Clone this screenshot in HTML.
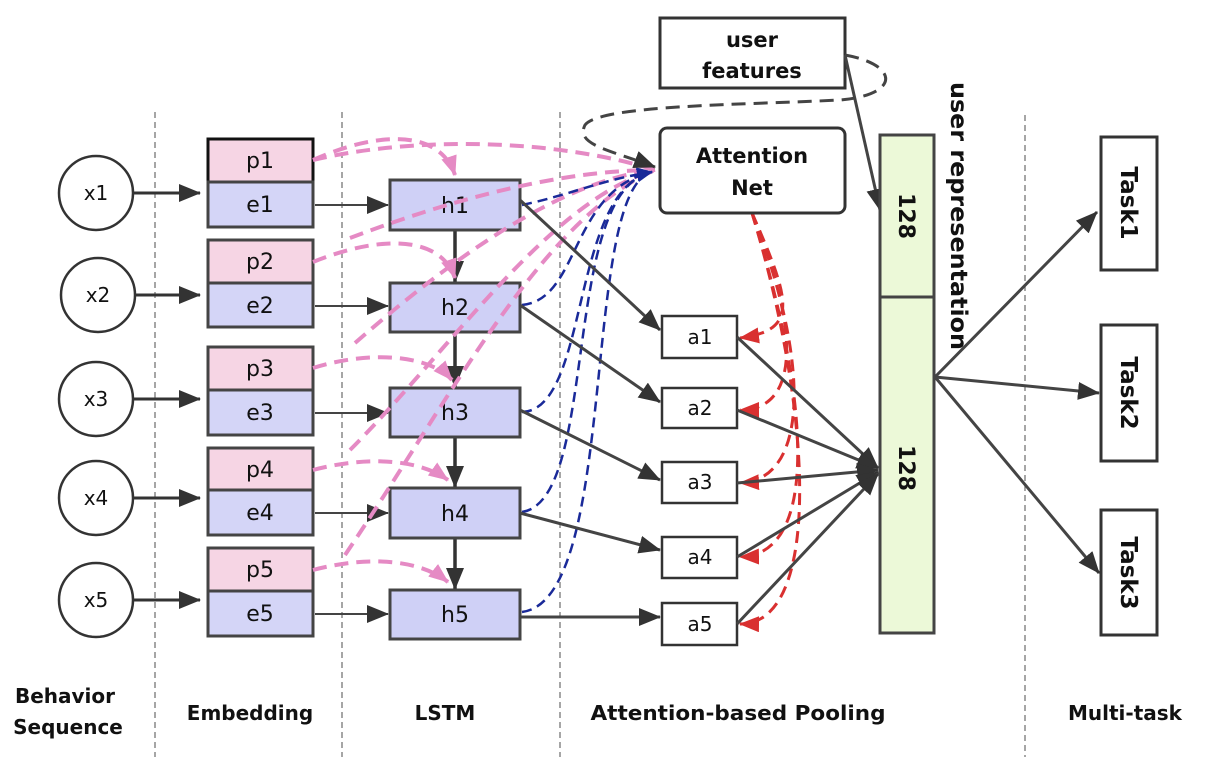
<!DOCTYPE html>
<html><head><meta charset="utf-8"><style>
html,body{margin:0;padding:0;background:#fff;}
svg{display:block;}
text{font-family:"DejaVu Sans","Liberation Sans",sans-serif;fill:#111;}
</style></head><body>
<svg width="1227" height="757" viewBox="0 0 1227 757" xmlns="http://www.w3.org/2000/svg">
<defs>
<marker id="abL" markerWidth="22" markerHeight="18" refX="21" refY="9" orient="auto" markerUnits="userSpaceOnUse"><path d="M0,0 L22,9 L0,18 z" fill="#333"/></marker>
<marker id="ap" markerWidth="20" markerHeight="16" refX="19" refY="8" orient="auto" markerUnits="userSpaceOnUse"><path d="M0,0 L20,8 L0,16 z" fill="#e58ac4"/></marker>
<marker id="ar" markerWidth="20" markerHeight="16" refX="19" refY="8" orient="auto" markerUnits="userSpaceOnUse"><path d="M0,0 L20,8 L0,16 z" fill="#d93030"/></marker>
<marker id="an" markerWidth="16" markerHeight="14" refX="15" refY="7" orient="auto" markerUnits="userSpaceOnUse"><path d="M0,0 L16,7 L0,14 z" fill="#1a2a99"/></marker>
</defs>
<g stroke="#777" stroke-width="1.3" stroke-dasharray="6,4">
<line x1="155" y1="112" x2="155" y2="757"/><line x1="342" y1="112" x2="342" y2="757"/>
<line x1="560" y1="112" x2="560" y2="757"/><line x1="1025" y1="115" x2="1025" y2="757"/>
</g>
<g stroke="#333" stroke-width="2.5" fill="#fff">
<circle cx="96" cy="193" r="37"/><circle cx="98" cy="295" r="37"/><circle cx="96" cy="399" r="37"/><circle cx="96" cy="498" r="37"/><circle cx="96" cy="600" r="37"/>
</g>
<g font-size="20" text-anchor="middle">
<text x="96" y="200">x1</text><text x="98" y="302">x2</text><text x="96" y="406">x3</text><text x="96" y="505">x4</text><text x="96" y="607">x5</text>
</g>
<g stroke="#333" stroke-width="3" marker-end="url(#abL)">
<line x1="133" y1="193" x2="200" y2="193"/><line x1="135" y1="295" x2="200" y2="295"/><line x1="133" y1="399" x2="200" y2="399"/><line x1="133" y1="498" x2="200" y2="498"/><line x1="133" y1="600" x2="200" y2="600"/>
</g>
<g stroke="#444" stroke-width="3">
<rect x="208" y="139" width="105" height="43" fill="#f6d5e4" stroke="#111"/><rect x="208" y="182" width="105" height="45" fill="#d4d5f7"/>
<rect x="208" y="240" width="105" height="43" fill="#f6d5e4"/><rect x="208" y="283" width="105" height="44" fill="#d4d5f7"/>
<rect x="208" y="347" width="105" height="43" fill="#f6d5e4"/><rect x="208" y="390" width="105" height="45" fill="#d4d5f7"/>
<rect x="208" y="448" width="105" height="42" fill="#f6d5e4"/><rect x="208" y="490" width="105" height="45" fill="#d4d5f7"/>
<rect x="208" y="548" width="105" height="43" fill="#f6d5e4"/><rect x="208" y="591" width="105" height="45" fill="#d4d5f7"/>
</g>
<g font-size="22" text-anchor="middle">
<text x="260" y="168">p1</text><text x="260" y="212">e1</text>
<text x="260" y="269">p2</text><text x="260" y="313">e2</text>
<text x="260" y="376">p3</text><text x="260" y="420">e3</text>
<text x="260" y="477">p4</text><text x="260" y="520">e4</text>
<text x="260" y="577">p5</text><text x="260" y="621">e5</text>
</g>
<g stroke="#444" stroke-width="2" marker-end="url(#abL)">
<line x1="315" y1="205" x2="388" y2="205"/><line x1="315" y1="306" x2="388" y2="306"/><line x1="315" y1="413" x2="388" y2="413"/><line x1="315" y1="513" x2="388" y2="513"/><line x1="315" y1="614" x2="388" y2="614"/>
</g>
<g stroke="#333" stroke-width="3.5" marker-end="url(#abL)">
<line x1="455" y1="231" x2="455" y2="282"/><line x1="455" y1="333" x2="455" y2="387"/><line x1="455" y1="438" x2="455" y2="487"/><line x1="455" y1="539" x2="455" y2="589"/>
</g>
<g stroke="#444" stroke-width="3" fill="#cfd0f6">
<rect x="390" y="180" width="130" height="50"/><rect x="390" y="283" width="130" height="49"/><rect x="390" y="388" width="130" height="49"/><rect x="390" y="488" width="130" height="50"/><rect x="390" y="590" width="130" height="49"/>
</g>
<g font-size="22" text-anchor="middle">
<text x="455" y="213">h1</text><text x="455" y="315">h2</text><text x="455" y="420">h3</text><text x="455" y="521">h4</text><text x="455" y="622">h5</text>
</g>
<g stroke="#e58ac4" stroke-width="4" fill="none" stroke-dasharray="14,8">
<path d="M313,160 C380,130 440,130 455,175" marker-end="url(#ap)"/>
<path d="M313,262 C380,235 440,235 455,278" marker-end="url(#ap)"/>
<path d="M313,368 C370,350 430,355 452,380" marker-end="url(#ap)"/>
<path d="M313,470 C370,455 420,460 448,480" marker-end="url(#ap)"/>
<path d="M313,570 C370,555 420,560 448,582" marker-end="url(#ap)"/>
<path d="M313,160 C420,135 560,140 655,170"/>
<path d="M350,238 C450,200 560,170 655,170"/>
<path d="M355,343 C450,260 560,180 655,170"/>
<path d="M350,450 C450,350 550,200 655,170"/>
<path d="M345,555 C450,400 540,220 655,170"/>
</g>
<g stroke="#1a2a99" stroke-width="2.5" fill="none" stroke-dasharray="10,6">
<path d="M522,205 C570,195 600,180 652,172" marker-end="url(#an)"/>
<path d="M522,305 C580,300 570,190 652,172" marker-end="url(#an)"/>
<path d="M522,412 C590,410 570,190 652,172"/>
<path d="M522,512 C600,500 560,190 652,172"/>
<path d="M522,612 C620,600 580,190 652,172"/>
</g>
<g stroke="#444" stroke-width="3" marker-end="url(#abL)">
<line x1="520" y1="200" x2="660" y2="330"/><line x1="520" y1="305" x2="660" y2="402"/><line x1="520" y1="410" x2="660" y2="480"/><line x1="520" y1="513" x2="660" y2="550"/><line x1="520" y1="617" x2="660" y2="617"/>
</g>
<g stroke="#333" stroke-width="2.5" fill="#fff">
<rect x="662" y="316" width="75" height="42"/><rect x="662" y="388" width="75" height="40"/><rect x="662" y="462" width="75" height="41"/><rect x="662" y="537" width="75" height="41"/><rect x="662" y="603" width="75" height="42"/>
</g>
<g font-size="20" text-anchor="middle">
<text x="700" y="344">a1</text><text x="700" y="415">a2</text><text x="700" y="489">a3</text><text x="700" y="564">a4</text><text x="700" y="631">a5</text>
</g>
<g stroke="#d93030" stroke-width="3" fill="none" stroke-dasharray="12,7">
<path d="M752,213 C790,300 800,330 740,338" marker-end="url(#ar)"/>
<path d="M752,213 C800,330 800,410 740,410" marker-end="url(#ar)"/>
<path d="M752,213 C810,360 810,480 740,483" marker-end="url(#ar)"/>
<path d="M752,213 C810,400 820,555 740,557" marker-end="url(#ar)"/>
<path d="M752,213 C815,420 820,625 740,624" marker-end="url(#ar)"/>
</g>
<g stroke="#444" stroke-width="3" marker-end="url(#abL)">
<line x1="737" y1="337" x2="878" y2="468"/><line x1="737" y1="410" x2="878" y2="468"/><line x1="737" y1="483" x2="878" y2="470"/><line x1="737" y1="557" x2="878" y2="472"/><line x1="737" y1="624" x2="878" y2="474"/>
</g>
<rect x="660" y="18" width="185" height="70" fill="#fff" stroke="#333" stroke-width="3"/>
<text x="752" y="47" font-size="21" text-anchor="middle" font-weight="bold">user</text>
<text x="752" y="78" font-size="21" text-anchor="middle" font-weight="bold">features</text>
<rect x="660" y="128" width="185" height="85" rx="7" fill="#fff" stroke="#333" stroke-width="3"/>
<text x="752" y="163" font-size="21" text-anchor="middle" font-weight="bold">Attention</text>
<text x="752" y="195" font-size="21" text-anchor="middle" font-weight="bold">Net</text>
<path d="M845,55 C900,65 900,95 840,100 C740,105 600,105 585,125 C575,145 610,150 655,167" stroke="#444" stroke-width="3" fill="none" stroke-dasharray="14,8" marker-end="url(#abL)"/>
<line x1="845" y1="55" x2="880" y2="210" stroke="#444" stroke-width="3" marker-end="url(#abL)"/>
<rect x="880" y="135" width="54" height="162" fill="#ecf9d8" stroke="#444" stroke-width="3"/>
<rect x="880" y="297" width="54" height="336" fill="#ecf9d8" stroke="#444" stroke-width="3"/>
<text transform="translate(899,216) rotate(90)" font-size="22" text-anchor="middle" font-weight="bold">128</text>
<text transform="translate(899,468) rotate(90)" font-size="22" text-anchor="middle" font-weight="bold">128</text>
<text transform="translate(951,82) rotate(90)" font-size="23" font-weight="bold" textLength="268" lengthAdjust="spacingAndGlyphs">user representation</text>
<g stroke="#444" stroke-width="3" marker-end="url(#abL)">
<line x1="935" y1="377" x2="1097" y2="212"/><line x1="935" y1="377" x2="1099" y2="393"/><line x1="935" y1="377" x2="1099" y2="573"/>
</g>
<g stroke="#333" stroke-width="3" fill="#fff">
<rect x="1101" y="137" width="56" height="133"/><rect x="1101" y="325" width="56" height="136"/><rect x="1101" y="510" width="56" height="125"/>
</g>
<g font-size="23" text-anchor="middle" font-weight="bold">
<text transform="translate(1121,203) rotate(90)">Task1</text>
<text transform="translate(1121,393) rotate(90)">Task2</text>
<text transform="translate(1121,573) rotate(90)">Task3</text>
</g>
<g font-size="20" font-weight="bold" text-anchor="middle">
<text x="65" y="703">Behavior</text><text x="68" y="734">Sequence</text>
<text x="250" y="720">Embedding</text><text x="445" y="720">LSTM</text>
<text x="738" y="720" textLength="295" lengthAdjust="spacingAndGlyphs">Attention-based Pooling</text><text x="1125" y="720">Multi-task</text>
</g>
</svg>
</body></html>
